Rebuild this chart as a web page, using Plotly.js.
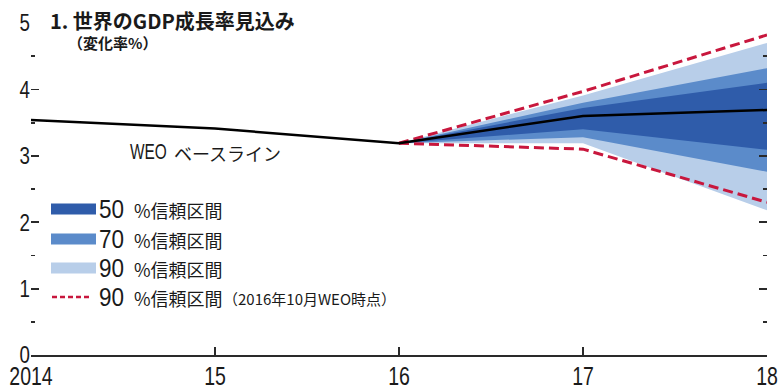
<!DOCTYPE html>
<html>
<head>
<meta charset="utf-8">
<script src="https://cdn.plot.ly/plotly-3.0.1.min.js"></script>
<style>
  html, body { margin: 0; padding: 0; background: #fff; }
  #chart { width: 780px; height: 388px; }
</style>
</head>
<body>
<div id="chart"></div>
<script>
// World GDP growth outlook (percent change): WEO baseline with fan chart bands
const years = [2014, 2015, 2016, 2017, 2018];
const yearLabels = ['2014', '15', '16', '17', '18'];
const baseline = [3.54, 3.41, 3.19, 3.60, 3.69];

const fanYears = [2016, 2017, 2018];
const lo90 = [3.19, 3.19, 2.18];
const hi90 = [3.19, 3.91, 4.70];
const lo70 = [3.19, 3.28, 2.76];
const hi70 = [3.19, 3.80, 4.32];
const lo50 = [3.19, 3.40, 3.09];
const hi50 = [3.19, 3.72, 4.10];
// 90% band as of the October 2016 WEO
const prevLo90 = [3.19, 3.10, 2.30];
const prevHi90 = [3.19, 3.97, 4.82];

const yTicks = [0, 1, 2, 3, 4, 5];

const titleText = '1. 世界のGDP成長率見込み';
const subtitleText = '（変化率%）';
const baselineLabelWeo = 'WEO';
const baselineLabelRest = 'ベースライン';
const legendLevels = ['50', '70', '90', '90'];
const legendText = '%信頼区間';
const legendNote = '（2016年10月WEO時点）';

const C_DARK = '#2f5caa';
const C_MID = '#5b8bca';
const C_LIGHT = '#b8cee9';
const C_RED = '#c8173d';
const C_TEXT = '#1a1a1a';
const C_TICK = '#2a2a2a';

const SANS = '"Liberation Sans", Arial, sans-serif';
const CJK = '"Noto Sans CJK JP", "Noto Sans", sans-serif';

// plot-area geometry in pixels
const W = 780, H = 388;
const M = { l: 31, r: 13, t: 23, b: 33 };
const PW = W - M.l - M.r, PH = H - M.t - M.b;
const px = x => (x - M.l) / PW;      // page x -> paper x
const py = y => (M.t + PH - y) / PH; // page y -> paper y

function band(lo, hi, color) {
  return [
    { x: fanYears, y: lo, mode: 'lines', line: { width: 0, color: color }, showlegend: false, hoverinfo: 'skip' },
    { x: fanYears, y: hi, mode: 'lines', line: { width: 0, color: color }, fill: 'tonexty', fillcolor: color, showlegend: false, hoverinfo: 'skip' }
  ];
}

const data = [
  ...band(lo90, hi90, C_LIGHT),
  ...band(lo70, hi70, C_MID),
  ...band(lo50, hi50, C_DARK),
  { x: fanYears, y: prevHi90, mode: 'lines', line: { color: C_RED, width: 3, dash: '10px,5px' }, showlegend: false },
  { x: fanYears, y: prevLo90, mode: 'lines', line: { color: C_RED, width: 3, dash: '10px,5px' }, showlegend: false },
  { x: years, y: baseline, mode: 'lines', line: { color: '#000', width: 2.5 }, showlegend: false }
];

// hand-drawn legend
const legendRows = [209, 239, 268, 297];
const swatchColors = [C_DARK, C_MID, C_LIGHT];
const shapes = [];
swatchColors.forEach((c, i) => {
  shapes.push({
    type: 'rect', xref: 'paper', yref: 'paper',
    x0: px(51), x1: px(96), y0: py(legendRows[i] - 5.5), y1: py(legendRows[i] + 5.5),
    fillcolor: c, line: { width: 0 }
  });
});
shapes.push({
  type: 'line', xref: 'paper', yref: 'paper',
  x0: px(52), x1: px(92), y0: py(legendRows[3]), y1: py(legendRows[3]),
  line: { color: C_RED, width: 2.5, dash: '5px,3px' }
});

// condensed-text registry: annotation index -> horizontal squeeze factor
const squeeze = {};
const annotations = [];
function note(text, x, y, font, factor) {
  if (factor) squeeze[annotations.length] = factor;
  annotations.push({
    text: text, xref: 'paper', yref: 'paper', x: px(x), y: py(y),
    xanchor: 'left', yanchor: 'middle', align: 'left', showarrow: false,
    font: font, borderpad: 0
  });
}
legendLevels.forEach((lv, i) => {
  note(lv, 98, legendRows[i], { family: SANS, size: 25, color: C_TEXT }, 0.9);
  note(legendText, 133, legendRows[i] + 1, { family: CJK, size: 18, color: C_TEXT });
});
note(legendNote, 222, legendRows[3] + 1, { family: CJK, size: 15, color: C_TEXT });

note('<b>' + titleText + '</b>', 49, 20, { family: CJK, size: 20, color: C_TEXT });
note('<b>' + subtitleText + '</b>', 67, 43, { family: CJK, size: 15, color: C_TEXT });
note(baselineLabelWeo, 129, 152, { family: SANS, size: 22, color: C_TEXT }, 0.7);
note(baselineLabelRest, 173, 153, { family: CJK, size: 18, color: C_TEXT });

const tickStyle = { ticks: 'inside', ticklen: 8, tickwidth: 1.8, tickcolor: C_TICK };
const minorTicks = { dtick: 0.5, ticks: 'inside', ticklen: 4, tickwidth: 1.8, tickcolor: C_TICK };

const layout = {
  width: W, height: H,
  margin: M,
  paper_bgcolor: '#fff', plot_bgcolor: '#fff',
  showlegend: false,
  xaxis: Object.assign({
    range: [2014, 2018],
    tickvals: years, ticktext: yearLabels,
    showline: true, linecolor: C_TICK, linewidth: 1.5,
    showgrid: false, zeroline: false,
    ticklabeloverflow: 'allow',
    ticklabelstandoff: -2,
    tickfont: { family: SANS, size: 25, color: C_TEXT }
  }, tickStyle),
  // ticks on both sides: mirrored onto the right edge, no vertical axis line
  yaxis: Object.assign({
    range: [0, 5],
    tickvals: yTicks,
    minor: minorTicks,
    mirror: 'ticks', showline: false,
    showgrid: false, zeroline: false,
    ticklabeloverflow: 'allow',
    tickfont: { family: SANS, size: 24, color: C_TEXT }
  }, tickStyle),
  shapes: shapes,
  annotations: annotations
};

// narrow the numeric lettering to a condensed look
function condense(el, factor) {
  const w = el.getComputedTextLength();
  if (w > 0) {
    el.setAttribute('textLength', (w * factor).toFixed(2));
    el.setAttribute('lengthAdjust', 'spacingAndGlyphs');
  }
}

Plotly.newPlot('chart', data, layout, { staticPlot: true, displayModeBar: false }).then(gd => {
  gd.querySelectorAll('.xtick text, .ytick text').forEach(t => condense(t, 0.78));
  gd.querySelectorAll('.annotation').forEach(g => {
    const idx = +g.getAttribute('data-index');
    if (squeeze[idx]) {
      const t = g.querySelector('text.annotation-text');
      if (t) condense(t, squeeze[idx]);
    }
  });
});
</script>
</body>
</html>
